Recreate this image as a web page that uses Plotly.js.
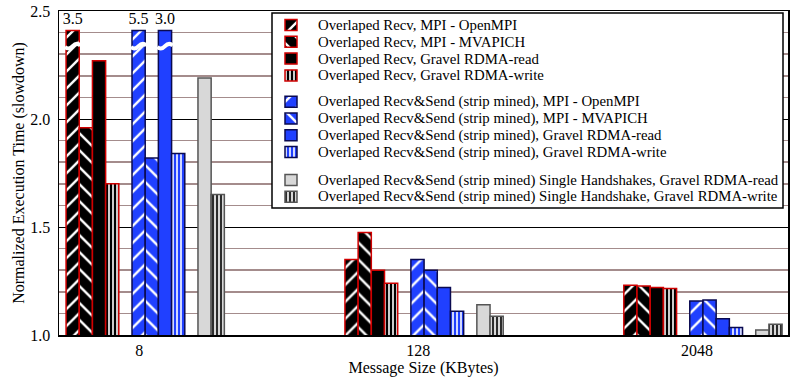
<!DOCTYPE html>
<html>
<head>
<meta charset="utf-8">
<script src="https://cdn.plot.ly/plotly-3.0.1.min.js"></script>
<style>html,body{margin:0;padding:0;background:#fff;}#chart{width:791px;height:380px;}</style>
</head>
<body>
<div id="chart"></div>
<script>
// ---- data ----
var categories = ['8', '128', '2048'];
var recvOpenMPI  = [3.5, 1.35, 1.23];
var recvMVAPICH  = [1.96, 1.475, 1.227];
var recvRead     = [2.27, 1.30, 1.22];
var recvWrite    = [1.70, 1.24, 1.215];
var smOpenMPI    = [5.5, 1.35, 1.157];
var smMVAPICH    = [1.82, 1.30, 1.162];
var smRead       = [3.0, 1.22, 1.075];
var smWrite      = [1.84, 1.11, 1.035];
var shRead       = [2.19, 1.14, 1.023];
var shWrite      = [1.65, 1.087, 1.05];
var seriesNames = [
  'Overlaped Recv, MPI - OpenMPI',
  'Overlaped Recv, MPI - MVAPICH',
  'Overlaped Recv, Gravel RDMA-read',
  'Overlaped Recv, Gravel RDMA-write',
  'Overlaped Recv&Send (strip mined), MPI - OpenMPI',
  'Overlaped Recv&Send (strip mined), MPI - MVAPICH',
  'Overlaped Recv&Send (strip mined), Gravel RDMA-read',
  'Overlaped Recv&Send (strip mined), Gravel RDMA-write',
  'Overlaped Recv&Send (strip mined) Single Handshakes, Gravel RDMA-read',
  'Overlaped Recv&Send (strip mined) Single Handshake, Gravel RDMA-write'
];
var seriesValues = [recvOpenMPI, recvMVAPICH, recvRead, recvWrite,
                    smOpenMPI, smMVAPICH, smRead, smWrite, shRead, shWrite];

// ---- styles ----
var FONT = '"Liberation Serif", "Times New Roman", Times, serif';
var YMAX = 2.5, CAP = 2.41;
var RED = '#d00000', NAVY = '#0a0a50', BLUE = '#2040ff', GRAY = '#d8d8d8', DGRAY = '#555555';
var styles = [
  {c:'#000', l:RED, p:'/', fg:'#fff', s:12, so:0.2, g:0},
  {c:'#000', l:RED, p:'\\', fg:'#fff', s:12, so:0.2, g:0},
  {c:'#000', l:RED, p:'', g:0},
  {c:'#000', l:RED, p:'|', fg:'#fff', s:4, so:0.4, g:0},
  {c:BLUE, l:NAVY, p:'/', fg:'#fff', s:12, so:0.2, g:1},
  {c:BLUE, l:NAVY, p:'\\', fg:'#fff', s:12, so:0.2, g:1},
  {c:BLUE, l:NAVY, p:'', g:1},
  {c:BLUE, l:NAVY, p:'|', fg:'#fff', s:4, so:0.4, g:1},
  {c:GRAY, l:DGRAY, p:'', g:2},
  {c:GRAY, l:DGRAY, p:'|', fg:'#000', s:4, so:0.4, g:2}
];
var slots = [0, 1, 2, 3, 5, 6, 7, 8, 10, 11];
var SLOT = 0.0473, OFF0 = -0.2627;

// plot area in pixels and legend layout (pixel units of the legend overlay axes)
var PL = {l: 59, t: 11, w: 729, h: 324};
var LEG = {x0: 272, x1: 783, y0: 13, y1: 208, iconX: 285, iconW: 12, iconH: 11, textX: 316,
           groupTop: [25, 101.7, 180], rowStep: 16.8, fontSize: 14.8};
function px2paperX(p) { return (p - PL.l) / PL.w; }
function px2paperY(p) { return 1 - (p - PL.t) / PL.h; }

function makeMarker(st) {
  var m = {color: st.c, line: {color: st.l, width: 1.5}};
  if (st.p) m.pattern = {shape: st.p, fillmode: 'overlay', fgcolor: st.fg, fgopacity: 1, size: st.s, solidity: st.so};
  return m;
}

var traces = [];
var shapes = [];
var annotations = [];
var rowInGroup = [0, 0, 0];
seriesValues.forEach(function(vals, k) {
  var st = styles[k];
  var off = OFF0 + slots[k] * SLOT;
  traces.push({
    type: 'bar', name: seriesNames[k], x: categories,
    y: vals.map(function(v){ return Math.min(v, CAP); }),
    text: vals.map(function(v){ return v > YMAX ? v.toFixed(1) : ''; }),
    textposition: 'outside', cliponaxis: false, constraintext: 'none',
    textfont: {family: FONT, size: 16, color: '#000'},
    offset: off, width: SLOT, marker: makeMarker(st),
    showlegend: false, hoverinfo: 'skip'
  });
  vals.forEach(function(v, i) {
    if (v > YMAX) {
      var x0 = i + off - 0.004, x1 = i + off + SLOT + 0.004, xm = (x0 + x1) / 2;
      var yc = 2.337, a = 0.012;
      shapes.push({
        type: 'path', xref: 'x', yref: 'y', layer: 'above',
        path: 'M' + x0 + ',' + (yc - a*0.3) +
              ' Q' + (x0 + (xm - x0) / 2) + ',' + (yc - a*1.6) + ' ' + xm + ',' + yc +
              ' Q' + (xm + (x1 - xm) / 2) + ',' + (yc + a*1.6) + ' ' + x1 + ',' + (yc + a*0.3),
        line: {color: '#fff', width: 4}
      });
    }
  });
  // legend entry: swatch + label
  var rowY = LEG.groupTop[st.g] + LEG.rowStep * rowInGroup[st.g]++;
  traces.push({
    type: 'bar', orientation: 'h', xaxis: 'x2', yaxis: 'y2',
    y: [rowY], x: [LEG.iconW], base: [LEG.iconX], width: LEG.iconH,
    marker: makeMarker(st), showlegend: false, hoverinfo: 'skip'
  });
  annotations.push({
    xref: 'x2', yref: 'y2', x: LEG.textX, y: rowY, xanchor: 'left', yanchor: 'middle',
    text: seriesNames[k], showarrow: false,
    font: {family: FONT, size: LEG.fontSize, color: '#000'}
  });
});

// legend border
shapes.push({
  type: 'rect', xref: 'paper', yref: 'paper', layer: 'above',
  x0: px2paperX(LEG.x0), x1: px2paperX(LEG.x1), y0: px2paperY(LEG.y1), y1: px2paperY(LEG.y0),
  fillcolor: 'rgba(0,0,0,0)', line: {color: '#000', width: 1.5}
});

var layout = {
  width: 791, height: 380,
  margin: {l: PL.l, r: 791 - PL.l - PL.w, t: PL.t, b: 380 - PL.t - PL.h},
  paper_bgcolor: '#fff', plot_bgcolor: '#fff',
  barmode: 'overlay',
  font: {family: FONT, size: 16, color: '#000'},
  showlegend: false,
  xaxis: {
    type: 'category', range: [-0.288, 2.326],
    showline: true, linecolor: '#000', linewidth: 1.5, mirror: true,
    showgrid: false, ticks: '', zeroline: false,
    tickfont: {family: FONT, size: 16},
    title: {text: 'Message Size (KBytes)', font: {family: FONT, size: 16}, standoff: 2}
  },
  yaxis: {
    range: [1, YMAX], dtick: 0.5, tickformat: '.1f',
    showline: true, linecolor: '#000', linewidth: 1.5, mirror: true,
    showgrid: true, gridcolor: '#000', gridwidth: 1,
    minor: {dtick: 0.1, showgrid: true, gridcolor: '#a48c8c', gridwidth: 1.5},
    ticks: '', zeroline: false, ticklabelstandoff: 4,
    tickfont: {family: FONT, size: 16},
    title: {text: 'Normalized Execution Time (slowdown)', font: {family: FONT, size: 16}, standoff: 1}
  },
  xaxis2: {
    domain: [px2paperX(LEG.x0), px2paperX(LEG.x1)], range: [LEG.x0, LEG.x1],
    anchor: 'y2', visible: false, showgrid: false, zeroline: false, fixedrange: true
  },
  yaxis2: {
    domain: [px2paperY(LEG.y1), px2paperY(LEG.y0)], range: [LEG.y1, LEG.y0],
    anchor: 'x2', visible: false, showgrid: false, zeroline: false, fixedrange: true
  },
  shapes: shapes,
  annotations: annotations
};

Plotly.newPlot('chart', traces, layout, {staticPlot: true, displayModeBar: false});
</script>
</body>
</html>
